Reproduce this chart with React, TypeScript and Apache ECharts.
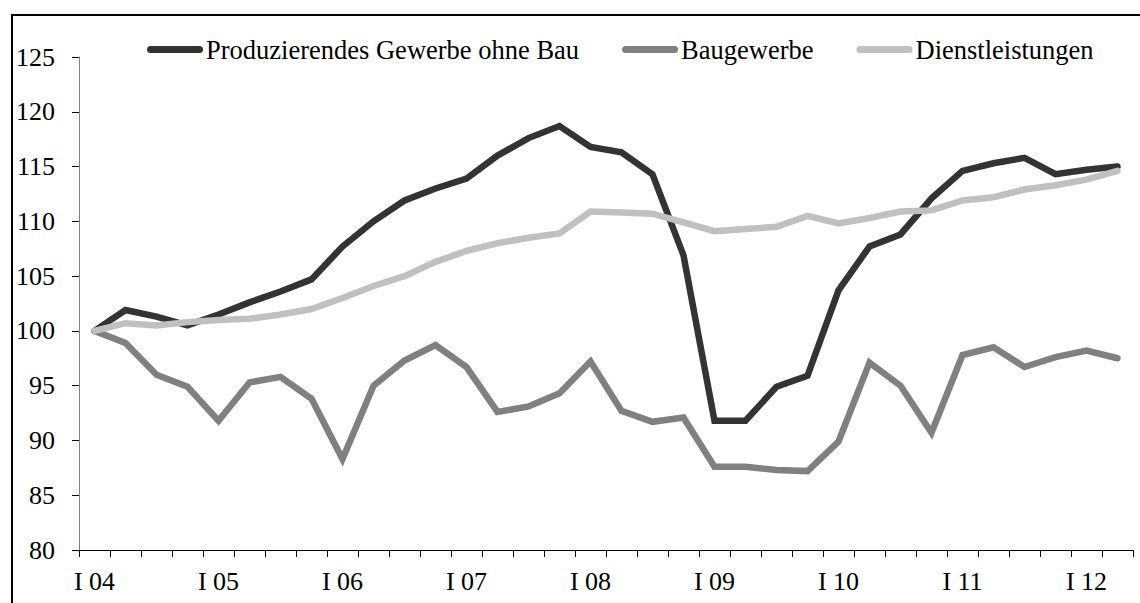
import React, { useEffect, useRef } from "react";
import * as echarts from "echarts";

const categories = [
  "I 04", "II 04", "III 04", "IV 04",
  "I 05", "II 05", "III 05", "IV 05",
  "I 06", "II 06", "III 06", "IV 06",
  "I 07", "II 07", "III 07", "IV 07",
  "I 08", "II 08", "III 08", "IV 08",
  "I 09", "II 09", "III 09", "IV 09",
  "I 10", "II 10", "III 10", "IV 10",
  "I 11", "II 11", "III 11", "IV 11",
  "I 12", "II 12",
];

const produzierendes = [
  100, 101.9, 101.3, 100.5, 101.5, 102.6, 103.6, 104.7,
  107.7, 110.0, 111.9, 113.0, 113.9, 116.0, 117.6, 118.7,
  116.8, 116.3, 114.3, 106.9, 91.8, 91.8, 94.9, 95.9,
  103.7, 107.7, 108.8, 112.1, 114.6, 115.3, 115.8, 114.3,
  114.7, 115.0,
];

const baugewerbe = [
  100, 98.9, 96.0, 94.9, 91.8, 95.3, 95.8, 93.8,
  88.3, 95.0, 97.3, 98.7, 96.7, 92.6, 93.1, 94.3,
  97.2, 92.7, 91.7, 92.1, 87.6, 87.6, 87.3, 87.2,
  89.9, 97.1, 95.0, 90.7, 97.8, 98.5, 96.7, 97.6,
  98.2, 97.5,
];

const dienstleistungen = [
  100, 100.7, 100.5, 100.8, 101.0, 101.1, 101.5, 102.0,
  103.0, 104.1, 105.0, 106.3, 107.3, 108.0, 108.5, 108.9,
  110.9, 110.8, 110.7, 109.9, 109.1, 109.3, 109.5, 110.5,
  109.8, 110.3, 110.9, 111.0, 111.9, 112.2, 112.9, 113.3,
  113.8, 114.6,
];

const seriesNames = ["Produzierendes Gewerbe ohne Bau", "Baugewerbe", "Dienstleistungen"];
const seriesColors = ["#333333", "#808080", "#c0c0c0"];
const seriesData = [produzierendes, baugewerbe, dienstleistungen];

const yMin = 80;
const yMax = 125;
const yStep = 5;

export default function App() {
  const ref = useRef<HTMLDivElement>(null);

  useEffect(() => {
    if (!ref.current) return;
    const chart = echarts.init(ref.current, null, { renderer: "svg" });
    const font = "'Liberation Serif', 'Times New Roman', serif";
    chart.setOption({
      animation: false,
      backgroundColor: "#ffffff",
      textStyle: { fontFamily: font },
      grid: { left: 79, right: 7, top: 57, bottom: 53, outerBoundsMode: "none" },
      legend: {
        show: true,
        left: 142,
        top: 31,
        itemWidth: 56,
        itemHeight: 7,
        itemGap: 43,
        icon: "path://M3.5,0H52.5A3.5,3.5,0,0,1,52.5,7H3.5A3.5,3.5,0,0,1,3.5,0Z",
        textStyle: { fontFamily: font, fontSize: 26.5, color: "#000", padding: [0, 0, 0, -2] },
        data: seriesNames,
      },
      graphic: [
        {
          type: "rect",
          z: -1,
          silent: true,
          shape: { x: 12, y: 15, width: 1140, height: 600 },
          style: { fill: "none", stroke: "#000", lineWidth: 2 },
        },
      ],
      xAxis: {
        type: "category",
        data: categories,
        boundaryGap: true,
        axisLine: { show: true, lineStyle: { color: "#000", width: 1 } },
        axisTick: { show: true, interval: 0, length: 7, lineStyle: { color: "#000", width: 1 } },
        axisLabel: {
          interval: 3,
          margin: 18,
          fontSize: 26,
          color: "#000",
          fontFamily: font,
        },
        splitLine: { show: false },
      },
      yAxis: {
        type: "value",
        min: yMin,
        max: yMax,
        interval: yStep,
        axisLine: { show: true, lineStyle: { color: "#808080", width: 1 } },
        axisTick: { show: true, length: 7, lineStyle: { color: "#000", width: 1 } },
        axisLabel: { margin: 24, fontSize: 26, color: "#000", fontFamily: font },
        splitLine: { show: false },
      },
      series: seriesNames.map((name, i) => ({
        name,
        type: "line",
        data: seriesData[i],
        color: seriesColors[i],
        symbol: "none",
        showSymbol: false,
        lineStyle: { width: 6.5, color: seriesColors[i], cap: "round", join: "miter" },
      })),
    });
    return () => chart.dispose();
  }, []);

  return (
    <div
      ref={ref}
      style={{ position: "fixed", left: 0, top: 0, width: 1140, height: 603, background: "#fff" }}
    />
  );
}
